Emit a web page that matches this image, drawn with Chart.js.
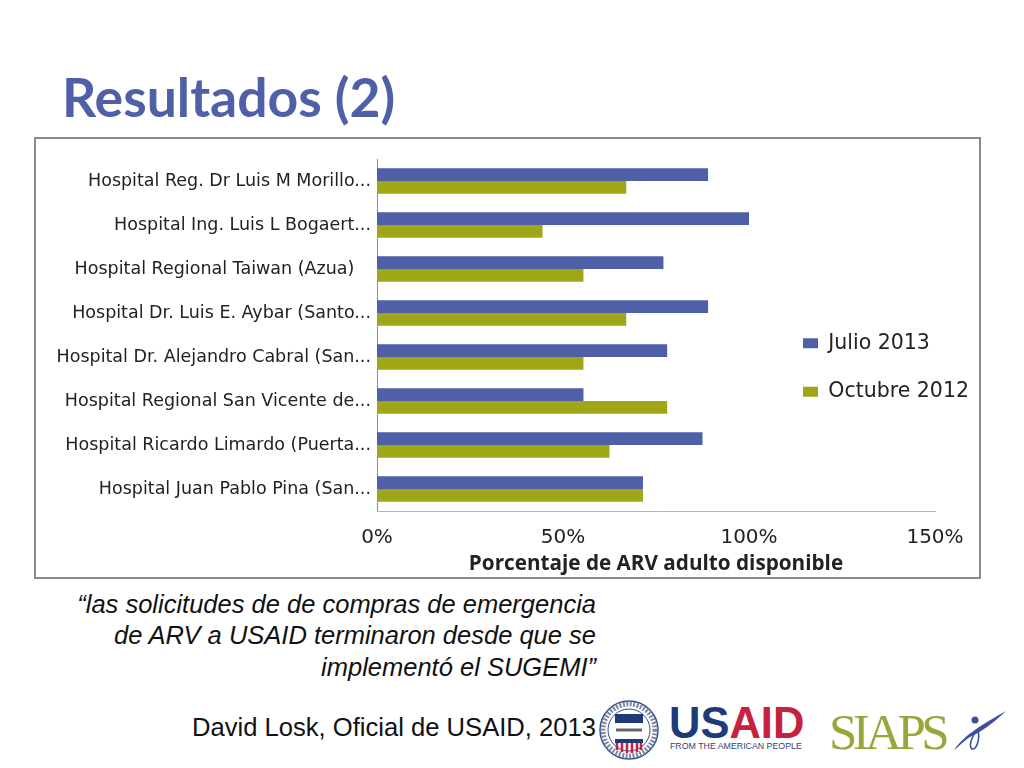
<!DOCTYPE html>
<html lang="es"><head><meta charset="utf-8">
<style>
html,body{margin:0;padding:0;background:#fff;width:1024px;height:768px;overflow:hidden}
div,svg{position:absolute}
#title{left:62px;top:64px;font:bold 53.5px Lato,sans-serif;color:#4F5FA8;white-space:nowrap}
#frame{left:34px;top:137px;width:943px;height:438px;border:2px solid #8a8a8a}
#quote{left:20px;width:576px;top:588.5px;text-align:right;font:italic 25.5px/31.5px "Liberation Sans",sans-serif;color:#111}
#author{left:100px;width:496px;top:712px;text-align:right;font:25.6px/30px "Liberation Sans",sans-serif;color:#111;white-space:nowrap}
#usaid{left:669px;top:701px;font:bold 43.5px/44px "Liberation Sans",sans-serif;color:#1f3a78;white-space:nowrap}
#usaid span{color:#c8203f}
#people{left:670px;top:741px;font:8.8px/11px "Liberation Sans",sans-serif;color:#33436f;white-space:nowrap}
#siaps{left:829px;top:704px;font:51px/56px "Liberation Serif",serif;color:#9aa63a;letter-spacing:-4.6px;white-space:nowrap}
</style></head><body>
<div id="title">Resultados (2)</div>
<div id="frame"><canvas id="c" width="943" height="438" style="display:block;width:943px;height:438px"></canvas></div>
<div id="quote">“las solicitudes de de compras de emergencia<br>de ARV a USAID terminaron desde que se<br>implementó el SUGEMI”</div>
<div id="author">David Losk, Oficial de USAID, 2013</div>
<svg style="left:598px;top:698px" width="62" height="64" viewBox="0 0 62 64">
<circle cx="31" cy="32" r="29" fill="#fff" stroke="#3a4f80" stroke-width="1.5"/>
<circle cx="31" cy="32" r="26" fill="none" stroke="#7b88a8" stroke-width="5" stroke-dasharray="2 1.5"/>
<circle cx="31" cy="32" r="21" fill="#fff" stroke="#3a4f80" stroke-width="1"/>
<rect x="17" y="16" width="28" height="9" fill="#1f3a78"/>
<path d="M18 32h26" stroke="#666" stroke-width="3"/>
<rect x="17" y="41" width="28" height="4" fill="#1f3a78"/>
<path d="M19 45v7M24 45v9M29 45v10M34 45v10M39 45v9M43 45v7" stroke="#c8203f" stroke-width="2.5"/>
</svg>
<div id="usaid">US<span>AID</span></div>
<div id="people">FROM THE AMERICAN PEOPLE</div>
<div id="siaps">SIAPS</div>
<svg style="left:950px;top:706px" width="60" height="48" viewBox="0 0 60 48">
<path d="M4 44C14 30 26 22 56 5C40 20 30 26 22 30C14 34 10 40 4 44Z" fill="#3c4f9c"/>
<circle cx="25" cy="14" r="3.5" fill="#3c4f9c"/>
<path d="M26 24C22 32 18 40 22 43C27 44 30 32 28 25" fill="none" stroke="#3c4f9c" stroke-width="1.6"/>
</svg>
<script src="https://cdn.jsdelivr.net/npm/chart.js@4/dist/chart.umd.min.js"></script>
<script>
const categories = [
  "Hospital Reg. Dr Luis M Morillo...",
  "Hospital Ing. Luis L Bogaert...",
  "Hospital Regional Taiwan (Azua)   ",
  "Hospital Dr. Luis E. Aybar (Santo...",
  "Hospital Dr. Alejandro Cabral (San...",
  "Hospital Regional San Vicente de...",
  "Hospital Ricardo Limardo (Puerta...",
  "Hospital Juan Pablo Pina (San..."
];
const julio2013 = [89, 100, 77, 89, 78, 55.5, 87.5, 71.5];
const octubre2012 = [67, 44.5, 55.5, 67, 55.5, 78, 62.5, 71.5];
const seriesNames = ["Julio 2013", "Octubre 2012"];
const xTicks = [0, 50, 100, 150];
const axisTitle = "Porcentaje de ARV adulto disponible";
const placeLegend = {
  id: "placeLegend",
  afterLayout(chart) {
    const l = chart.legend;
    const w = l.width, h = l.height;
    l.left = 739; l.right = 739 + w; l.top = 166; l.bottom = 166 + h;
  }
};
new Chart(document.getElementById("c"), {
  type: "bar",
  plugins: [placeLegend],
  data: { labels: categories, datasets: [
    { label: seriesNames[0], data: julio2013, backgroundColor: "#4F60A9" },
    { label: seriesNames[1], data: octubre2012, backgroundColor: "#A0A717" }
  ]},
  options: {
    indexAxis: "y", responsive: false, animation: false,
    devicePixelRatio: 1,
    layout: { padding: { top: 20, right: 44, bottom: 0, left: 0 } },
    datasets: { bar: { categoryPercentage: 0.58, barPercentage: 1 } },
    plugins: {
      tooltip: { enabled: false },
      legend: { position: "chartArea", align: "start",
        labels: { boxWidth: 15, boxHeight: 10, padding: 28, color: "#222",
          font: { family: "'DejaVu Sans'", size: 20.5 } } }
    },
    scales: {
      y: {
        afterFit(s) { s.width = 341; s.paddingTop = 0; s.paddingBottom = 0; },
        grid: { display: false, drawTicks: false },
        border: { color: "#8a8a8a" },
        ticks: { color: "#222", padding: 6, autoSkip: false, font: { family: "'DejaVu Sans'", size: 17.5 } }
      },
      x: {
        min: 0, max: 150,
        afterFit(s) { s.height = 66; s.paddingLeft = 0; s.paddingRight = 0; },
        afterBuildTicks(s) { s.ticks = xTicks.map(v => ({ value: v })); },
        grid: { display: false, drawTicks: false },
        border: { color: "#b5b5b5" },
        ticks: { color: "#222", padding: 15, maxRotation: 0, callback: v => v + "%",
          font: { family: "'DejaVu Sans'", size: 20 } },
        title: { display: true, text: axisTitle, color: "#222", padding: { top: 0, bottom: 0 },
          font: { family: "'Open Sans'", weight: "bold", size: 20.7 } }
      }
    }
  }
});
</script>
</body></html>
